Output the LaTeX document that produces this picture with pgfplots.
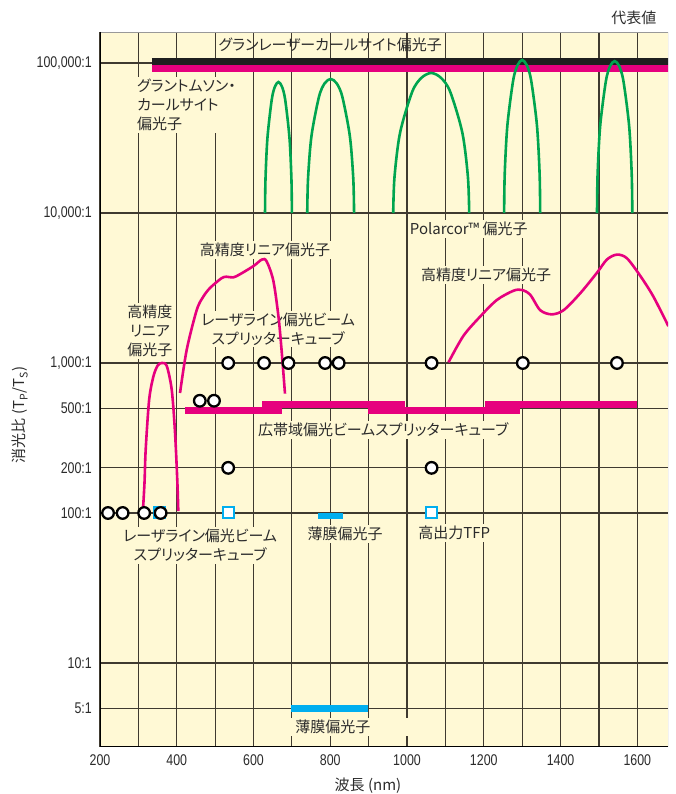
\documentclass[border=0pt]{standalone}
\usepackage{fontspec}
\usepackage{pgfplots}
\pgfplotsset{compat=1.18}
\newfontfamily\jp{Noto Sans CJK JP}[RawFeature=+palt]
\newfontfamily\numf{Liberation Sans}[FakeStretch=0.8]
\definecolor{bg}{HTML}{FFF9D5}
\definecolor{mag}{HTML}{E6007E}
\definecolor{grn}{HTML}{00A54F}
\definecolor{cyn}{HTML}{00AEEF}
\definecolor{gridc}{HTML}{3F3A30}
\definecolor{txt}{HTML}{2B2B2B}
\tikzset{lbl/.style={font=\jp\fontsize{15}{19}\selectfont, text=txt, fill=bg, inner sep=2pt, align=center}}
\begin{document}
\begin{tikzpicture}
\useasboundingbox (-100pt,-47pt) rectangle (575pt,747pt);
\begin{axis}[
 at={(0pt,0pt)}, anchor=south west,
 scale only axis, width=568pt, height=715pt,
 xmin=200, xmax=1680, ymode=log, ymin=2.754, ymax=161000,
 axis background/.style={fill=bg},
 axis line style={draw=none},
 xtick={200,400,...,1600}, minor xtick={300,500,...,1700},
 xticklabels={200,400,600,800,1000,1200,1400,1600},
 ytick={5,10,100,200,500,1000,10000,100000},
 yticklabels={5:1,10:1,100:1,200:1,500:1,{1,000:1},{10,000:1},{100,000:1}},
 major tick length=0pt, minor tick length=0pt,
 xmajorgrids, xminorgrids, ymajorgrids,
 major grid style={gridc, line width=1.2pt},
 minor grid style={gridc, line width=1.2pt},
 ticklabel style={font=\numf\fontsize{15.5}{17}\selectfont, text=txt},
 yticklabel style={inner sep=0pt, xshift=-8pt},
 xticklabel style={inner sep=0pt, yshift=-7pt},
 clip=true,
]
% labels (under data, over grid)
\node[lbl, fill=none] at (axis cs:800,131800) {グランレーザーカールサイト偏光子};
\node[lbl, anchor=west, align=left] at (axis cs:291,52500) {グラントムソン・\\カールサイト\\偏光子};
\node[lbl] at (axis cs:1161,7820) {Polarcor™ 偏光子};
\node[lbl] at (axis cs:630,5670) {高精度リニア偏光子};
\node[lbl] at (axis cs:330,1641) {高精度\\リニア\\偏光子};
\node[lbl] at (axis cs:664,1685) {レーザライン偏光ビーム\\スプリッターキューブ};
\node[lbl] at (axis cs:938,357) {広帯域偏光ビームスプリッターキューブ};
\node[lbl] at (axis cs:1206,3860) {高精度リニア偏光子};
\node[lbl] at (axis cs:461,60.7) {レーザライン偏光ビーム\\スプリッターキューブ};
\node[lbl] at (axis cs:839,72.4) {薄膜偏光子};
\node[lbl] at (axis cs:1123,73.6) {高出力TFP};
\node[lbl, minimum width=150pt] at (axis cs:807,3.74) {薄膜偏光子};
% top bars
\addplot[black!88, line width=7pt] coordinates {(335,102300)(1700,102300)};
\addplot[mag, line width=7pt] coordinates {(335,91900)(1700,91900)};
% Polarcor arcs
\addplot[grn, line width=2.6pt, smooth] coordinates {(630,10000)(631.2,16830)(636.3,31700)(647.5,57000)(655.9,69660)(665,74700)(674.1,69660)(682.5,57000)(693.7,31700)(698.8,16830)(700,10000)};
\addplot[grn, line width=2.6pt, smooth] coordinates {(740,10000)(742.1,17040)(751,32600)(770.5,59400)(785.2,73100)(801,78300)(816.8,73100)(831.5,59400)(851,32600)(859.9,17040)(862,10000)};
\addplot[grn, line width=2.6pt, smooth] coordinates {(964,10000)(967.4,17450)(981.9,34320)(1013.5,64300)(1037.4,79600)(1063,85800)(1088.6,79600)(1112.5,64300)(1144.1,34320)(1158.6,17450)(1162,10000)};
\addplot[grn, line width=2.6pt, smooth] coordinates {(1253,10000)(1254.6,18370)(1261.5,38460)(1276.5,76400)(1287.8,96600)(1300,104700)(1312.2,96600)(1323.5,76400)(1338.5,38460)(1345.4,18370)(1347,10000)};
\addplot[grn, line width=2.6pt, smooth] coordinates {(1495,10000)(1496.6,18280)(1503.3,38100)(1518,75400)(1529.1,95300)(1541,103000)(1552.9,95300)(1564,75400)(1578.7,38100)(1585.4,18280)(1587,10000)};
% high precision linear polarizers
\addplot[mag, line width=2.6pt, smooth] coordinates {(312,105)(316,160)(319,263)(328,567)(339,811)(350,960)(361,1000)(374,955)(387,660)(395.5,344)(401.6,160)(404,103)};
\addplot[mag, line width=2.6pt, smooth] coordinates {(408.5,631)(426,1227)(452,2254)(469,2765)(487,3170)(517,3680)(530,3760)(547,3720)(565,3910)(600,4430)(621.6,4890)(634,4770)(651.6,3540)(665,2040)(673,1230)(682,625)};
\addplot[mag, line width=2.6pt, smooth] coordinates {(1108,1010)(1147,1518)(1190.6,2040)(1234,2630)(1277,3030)(1299,3070)(1321,2850)(1347,2250)(1377,2110)(1408,2250)(1451,2910)(1495,4000)(1521,4900)(1547,5280)(1573,4990)(1608,3800)(1642,2770)(1681,1760)};
% broadband PBS bars
\addplot[mag, line width=7pt] coordinates {(421.6,485)(673.6,485)};
\addplot[mag, line width=7pt] coordinates {(897.8,485)(1295,485)};
\addplot[mag, line width=7pt] coordinates {(623,527)(995,527)};
\addplot[mag, line width=7pt] coordinates {(1203.6,527)(1599,527)};
% thin film polarizers
\addplot[cyn, line width=6pt] coordinates {(768,95.5)(833.5,95.5)};
\addplot[cyn, line width=7pt] coordinates {(698,5)(899.5,5)};
% high power TFP / laser line squares
\addplot[only marks, mark=square*, mark size=5.5pt, mark options={draw=cyn, fill=white, line width=2pt}] coordinates {(355,100)(534,100)(1064,100)};
% laser line PBS circles
\addplot[only marks, mark=*, mark size=5.8pt, mark options={draw=black, fill=white, line width=2.3pt}] coordinates {
(221,100)(259,100)(315,100)(358,100)
(534,200)(1064,200)
(460,560)(497,560)
(534,1000)(627.5,1000)(691,1000)(786.5,1000)(822,1000)(1064,1000)(1301.6,1000)(1547,1000)};
% frame
\draw[black!40, line width=0.8pt] (rel axis cs:0,1) -- (rel axis cs:1,1) -- (rel axis cs:1,0);
\draw[black, line width=1.8pt] (rel axis cs:0,1) -- (rel axis cs:0,0) -- (rel axis cs:1,0);
\end{axis}
\node[font=\jp\fontsize{15}{18}\selectfont, text=txt, anchor=east] at (560pt,729pt) {代表値};
\node[font=\jp\fontsize{15}{18}\selectfont, text=txt] at (268pt,-39pt) {波長 (nm)};
\node[font=\jp\fontsize{15}{18}\selectfont, text=txt, rotate=90] at (-80pt,332pt) {消光比 (T\textsubscript{P}/T\textsubscript{S})};
\end{tikzpicture}
\end{document}
